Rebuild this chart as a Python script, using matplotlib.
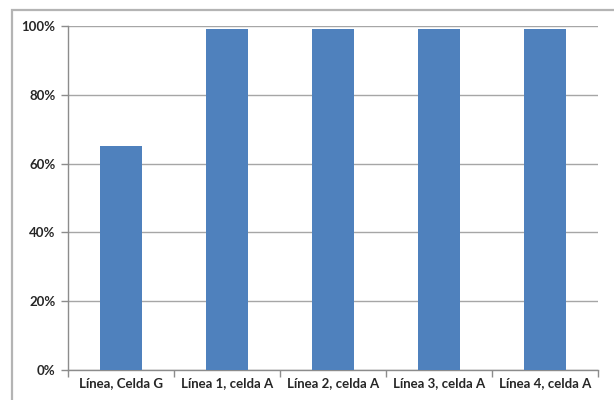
import matplotlib
matplotlib.use("Agg")
import matplotlib.pyplot as plt
from matplotlib.patches import Rectangle
from matplotlib.ticker import FuncFormatter

categories = ["Línea, Celda G", "Línea 1, celda A", "Línea 2, celda A",
              "Línea 3, celda A", "Línea 4, celda A"]
values = [0.65, 0.99, 0.99, 0.99, 0.99]
y_ticks = [0, 0.2, 0.4, 0.6, 0.8, 1.0]

W, H = 614, 400
fig = plt.figure(figsize=(W / 100, H / 100), dpi=100)
fig.patch.set_facecolor("white")

# chart-area frame
fig.patches.append(Rectangle((12 / W, -0.05), 1.1, (400 - 10) / H + 0.05,
                             transform=fig.transFigure, fill=False,
                             edgecolor="#b4b4b4", linewidth=1.6, zorder=0))

ax = fig.add_axes([68 / W, 30 / H, (598 - 68) / W, (370 - 26) / H])
x = range(len(categories))
ax.bar(x, values, width=0.4, color="#4F81BD", zorder=3)

ax.set_xlim(-0.5, len(categories) - 0.5)
ax.set_ylim(0, 1.0)
ax.set_yticks(y_ticks)
ax.yaxis.set_major_formatter(FuncFormatter(lambda v, _: f"{v * 100:.0f}%"))
ax.grid(axis="y", color="#a6a6a6", linewidth=1.0, zorder=0)

ax.set_xticks(list(x))
ax.set_xticklabels(categories)
ax.set_xticks([i - 0.5 for i in range(len(categories) + 1)], minor=True)
ax.tick_params(axis="x", which="major", length=0, pad=5)
ax.tick_params(axis="x", which="minor", length=5, color="#8c8c8c", width=1.0)
ax.tick_params(axis="y", length=5, color="#8c8c8c", width=1.0, pad=4)

for lab in ax.get_xticklabels() + ax.get_yticklabels():
    lab.set_fontfamily("Lato")
    lab.set_fontweight("bold")
    lab.set_fontsize(9.5)
    lab.set_color("#262626")

for side in ("top", "right"):
    ax.spines[side].set_visible(False)
for side in ("left", "bottom"):
    ax.spines[side].set_color("#8c8c8c")
    ax.spines[side].set_linewidth(1.0)

fig.savefig("out.png", dpi=100)
